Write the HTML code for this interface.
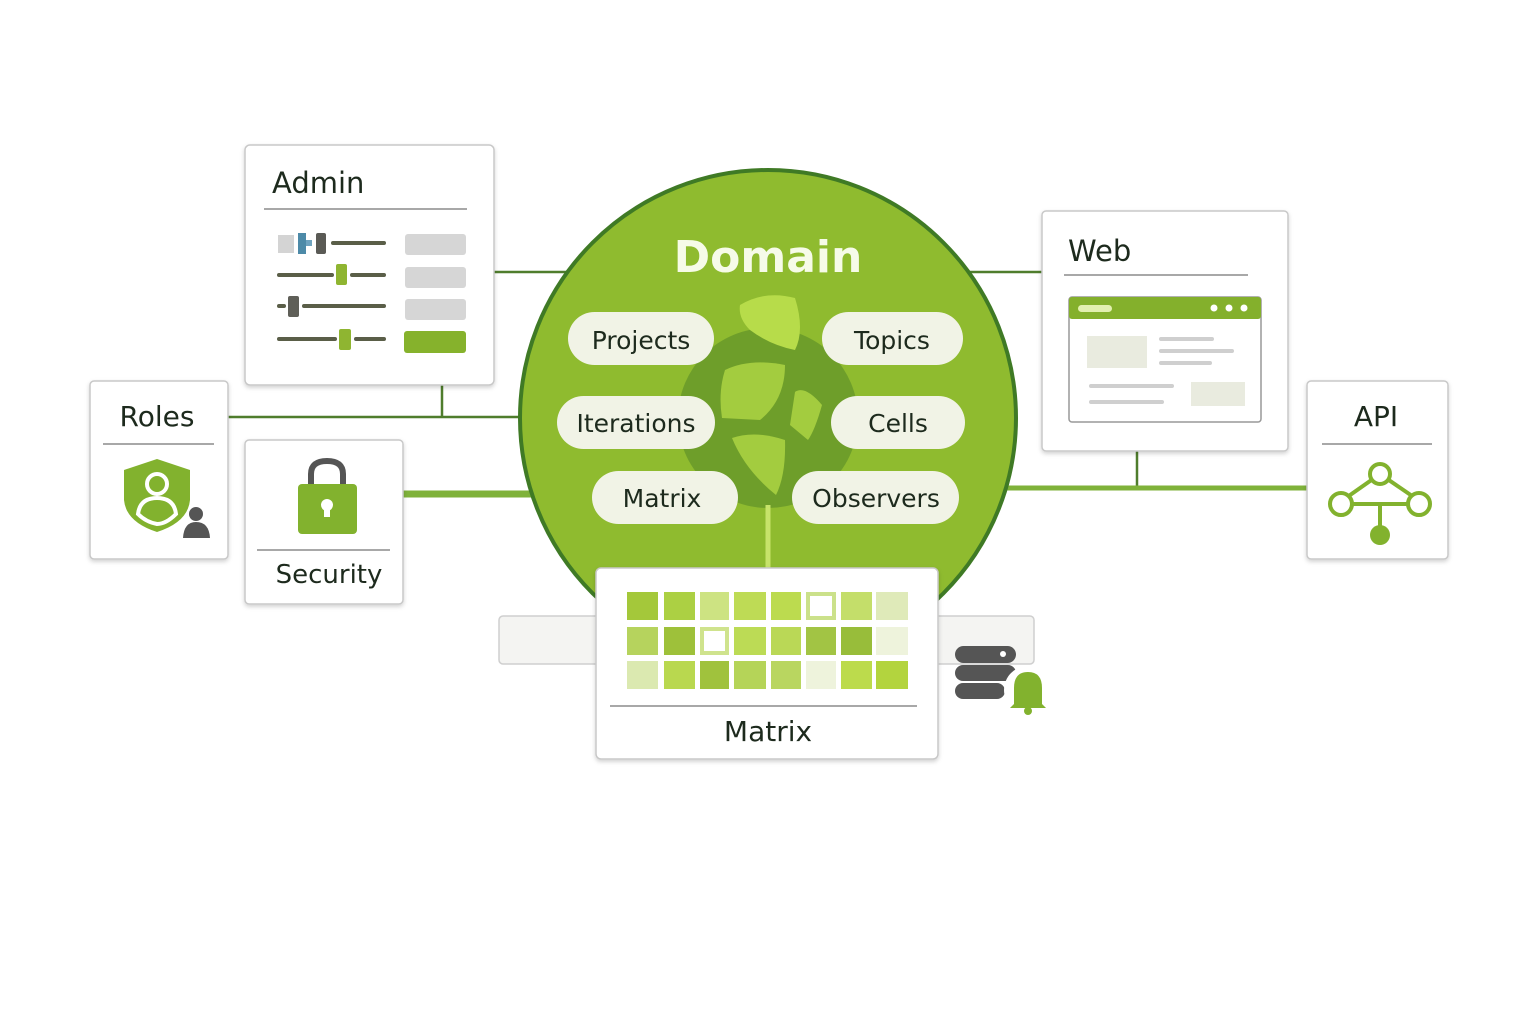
<!DOCTYPE html>
<html><head><meta charset="utf-8"><style>
body{margin:0;background:#fff;}
svg text{font-family:"DejaVu Sans","Liberation Sans",sans-serif;fill:#1d2a1d;}
</style></head><body>
<svg width="1536" height="1024" viewBox="0 0 1536 1024" xmlns="http://www.w3.org/2000/svg">
<defs>
<filter id="sh" x="-10%" y="-10%" width="120%" height="130%"><feDropShadow dx="0" dy="2" stdDeviation="2" flood-color="#000" flood-opacity="0.18"/></filter>
</defs>
<g stroke="#4f7d2c" stroke-width="2.5" fill="none">
<line x1="494" y1="272" x2="570" y2="272"/>
<line x1="965" y1="272" x2="1042" y2="272"/>
<line x1="228" y1="417" x2="522" y2="417"/>
<line x1="442" y1="385" x2="442" y2="417"/>
<line x1="1137" y1="451" x2="1137" y2="488"/>
</g>
<line x1="403" y1="494" x2="540" y2="494" stroke="#7fb23a" stroke-width="7"/>
<line x1="1000" y1="488" x2="1307" y2="488" stroke="#7fb23a" stroke-width="5"/>
<rect x="499" y="616" width="535" height="48" rx="4" fill="#f4f4f2" stroke="#cfcfcf" stroke-width="1.5"/>
<circle cx="768" cy="418" r="248" fill="#8fbb2f" stroke="#3f7a25" stroke-width="4"/>
<circle cx="768" cy="418" r="90" fill="#6e9e2a"/>
<path d="M740 305 Q765 290 795 298 Q805 330 795 350 Q770 345 750 330 Q738 318 740 305Z" fill="#b7dc4a"/>
<path d="M725 370 Q750 358 785 365 Q785 400 760 420 L722 418 Q718 392 725 370Z" fill="#a3cc3f"/>
<path d="M795 392 Q805 385 822 405 Q815 430 808 440 L790 425Z" fill="#a3cc3f"/>
<path d="M732 438 Q755 430 785 440 Q786 475 776 495 Q745 470 732 438Z" fill="#a3cc3f"/>
<text x="768" y="272" font-size="44" font-weight="bold" text-anchor="middle" style="fill:#f6fbe8">Domain</text>
<g fill="#f1f3e6">
<rect x="568" y="312" width="146" height="53" rx="26.5"/>
<rect x="822" y="312" width="141" height="53" rx="26.5"/>
<rect x="557" y="396" width="158" height="53" rx="26.5"/>
<rect x="831" y="396" width="134" height="53" rx="26.5"/>
<rect x="592" y="471" width="146" height="53" rx="26.5"/>
<rect x="792" y="471" width="167" height="53" rx="26.5"/>
</g>
<g font-size="25" text-anchor="middle">
<text x="641" y="349">Projects</text>
<text x="892" y="349">Topics</text>
<text x="636" y="432">Iterations</text>
<text x="898" y="432">Cells</text>
<text x="662" y="507">Matrix</text>
<text x="876" y="507">Observers</text>
</g>
<line x1="768" y1="505" x2="768" y2="570" stroke="#c7e36a" stroke-width="5"/>
<rect x="245" y="145" width="249" height="240" rx="5" fill="#fff" stroke="#c8c8c8" stroke-width="1.5" filter="url(#sh)"/>
<text x="272" y="193" font-size="29">Admin</text>
<line x1="264" y1="209" x2="467" y2="209" stroke="#a8a8a8" stroke-width="2"/>
<g stroke="#5a5e48" stroke-width="4" stroke-linecap="round">
<line x1="333" y1="243" x2="384" y2="243"/>
<line x1="279" y1="275" x2="332" y2="275"/><line x1="352" y1="275" x2="384" y2="275"/>
<line x1="279" y1="306" x2="284" y2="306"/><line x1="304" y1="306" x2="384" y2="306"/>
<line x1="279" y1="339" x2="335" y2="339"/><line x1="356" y1="339" x2="384" y2="339"/>
</g>
<rect x="278" y="235" width="16" height="18" fill="#d4d4d4"/>
<rect x="298" y="233" width="8" height="21" fill="#4d8aa8"/><rect x="306" y="240" width="6" height="6" fill="#6fa3bf"/>
<rect x="316" y="233" width="10" height="21" rx="2" fill="#5a5a55"/>
<rect x="336" y="264" width="11" height="21" rx="2" fill="#8fb531"/>
<rect x="288" y="296" width="11" height="21" rx="2" fill="#5f5f58"/>
<rect x="339" y="329" width="12" height="21" rx="2" fill="#8fb531"/>
<rect x="405" y="234" width="61" height="21" rx="3" fill="#d6d6d6"/>
<rect x="405" y="267" width="61" height="21" rx="3" fill="#d6d6d6"/>
<rect x="405" y="299" width="61" height="21" rx="3" fill="#d6d6d6"/>
<rect x="404" y="331" width="62" height="22" rx="3" fill="#86b22c"/>
<rect x="90" y="381" width="138" height="178" rx="4" fill="#fff" stroke="#c8c8c8" stroke-width="1.5" filter="url(#sh)"/>
<text x="157" y="426" font-size="28" text-anchor="middle">Roles</text>
<line x1="103" y1="444" x2="214" y2="444" stroke="#a8a8a8" stroke-width="2"/>
<path d="M157 459 L190 470 L190 500 Q188 522 157 532 Q126 522 124 500 L124 470Z" fill="#82b22e"/>
<circle cx="157" cy="484" r="10" fill="none" stroke="#fff" stroke-width="4"/>
<path d="M138 514 Q140 498 157 498 Q174 498 176 514 Q166 524 157 524 Q146 522 138 514Z" fill="none" stroke="#fff" stroke-width="4"/>
<circle cx="196" cy="514" r="7" fill="#555"/><path d="M183 538 Q184 522 196 522 Q209 522 210 538Z" fill="#555"/>
<rect x="245" y="440" width="158" height="164" rx="4" fill="#fff" stroke="#c8c8c8" stroke-width="1.5" filter="url(#sh)"/>
<path d="M311 486 L311 474 Q311 461 327 461 Q343 461 343 474 L343 486" fill="none" stroke="#555" stroke-width="6"/>
<rect x="298" y="484" width="59" height="50" rx="4" fill="#82b22e"/>
<circle cx="327" cy="505" r="6" fill="#fff"/><rect x="324" y="505" width="6" height="12" fill="#fff"/>
<line x1="257" y1="550" x2="390" y2="550" stroke="#a8a8a8" stroke-width="2"/>
<text x="329" y="583" font-size="26" text-anchor="middle">Security</text>
<rect x="1042" y="211" width="246" height="240" rx="4" fill="#fff" stroke="#c8c8c8" stroke-width="1.5" filter="url(#sh)"/>
<text x="1068" y="261" font-size="29">Web</text>
<line x1="1064" y1="275" x2="1248" y2="275" stroke="#a8a8a8" stroke-width="2"/>
<rect x="1069" y="297" width="192" height="125" rx="3" fill="#fff" stroke="#999" stroke-width="1.5"/>
<rect x="1069" y="297" width="192" height="22" rx="3" fill="#84b02c"/>
<rect x="1078" y="305" width="34" height="7" rx="3.5" fill="#e2f0b0"/>
<circle cx="1214" cy="308" r="3.5" fill="#fff"/><circle cx="1229" cy="308" r="3.5" fill="#fff"/><circle cx="1244" cy="308" r="3.5" fill="#fff"/>
<rect x="1087" y="336" width="60" height="32" fill="#e9ebdf"/>
<g stroke="#cfcfcf" stroke-width="4" stroke-linecap="round">
<line x1="1161" y1="339" x2="1212" y2="339"/><line x1="1161" y1="351" x2="1232" y2="351"/><line x1="1161" y1="363" x2="1210" y2="363"/>
<line x1="1091" y1="386" x2="1172" y2="386"/><line x1="1091" y1="402" x2="1162" y2="402"/>
</g>
<rect x="1191" y="382" width="54" height="24" fill="#e9ebdf"/>
<rect x="1307" y="381" width="141" height="178" rx="4" fill="#fff" stroke="#c8c8c8" stroke-width="1.5" filter="url(#sh)"/>
<text x="1376" y="426" font-size="28" text-anchor="middle">API</text>
<line x1="1322" y1="444" x2="1432" y2="444" stroke="#a8a8a8" stroke-width="2"/>
<g stroke="#82b22e" stroke-width="4" fill="none">
<line x1="1380" y1="474" x2="1343" y2="500"/><line x1="1380" y1="474" x2="1418" y2="500"/>
<line x1="1353" y1="504" x2="1407" y2="504"/><line x1="1380" y1="504" x2="1380" y2="530"/>
<circle cx="1380" cy="474" r="10" fill="#fff"/><circle cx="1341" cy="504" r="11" fill="#fff"/><circle cx="1419" cy="504" r="11" fill="#fff"/>
</g>
<circle cx="1380" cy="535" r="10" fill="#82b22e"/>
<rect x="596" y="568" width="342" height="191" rx="5" fill="#fff" stroke="#c8c8c8" stroke-width="1.5" filter="url(#sh)"/>
<g>
<rect x="627" y="592" width="31" height="28" fill="#a4c83a"/><rect x="664" y="592" width="31" height="28" fill="#acd043"/><rect x="700" y="592" width="29" height="28" fill="#cde382"/><rect x="734" y="592" width="32" height="28" fill="#bedb55"/><rect x="771" y="592" width="30" height="28" fill="#bcdb4f"/><rect x="806" y="592" width="30" height="28" fill="#cbe18a"/><rect x="810" y="596" width="22" height="20" fill="#fff"/><rect x="841" y="592" width="31" height="28" fill="#c4de6a"/><rect x="876" y="592" width="32" height="28" fill="#dfeab9"/>
<rect x="627" y="627" width="31" height="28" fill="#b6d35d"/><rect x="664" y="627" width="31" height="28" fill="#9ec13a"/><rect x="700" y="627" width="29" height="28" fill="#cfe38d"/><rect x="704" y="631" width="21" height="20" fill="#fff"/><rect x="734" y="627" width="32" height="28" fill="#bcdb55"/><rect x="771" y="627" width="30" height="28" fill="#bad856"/><rect x="806" y="627" width="30" height="28" fill="#a2c444"/><rect x="841" y="627" width="31" height="28" fill="#98bd3a"/><rect x="876" y="627" width="32" height="28" fill="#eef3dc"/>
<rect x="627" y="661" width="31" height="28" fill="#dbe9b0"/><rect x="664" y="661" width="31" height="28" fill="#b9d84f"/><rect x="700" y="661" width="29" height="28" fill="#a0c23d"/><rect x="734" y="661" width="32" height="28" fill="#b5d458"/><rect x="771" y="661" width="30" height="28" fill="#b9d660"/><rect x="806" y="661" width="30" height="28" fill="#eef3dc"/><rect x="841" y="661" width="31" height="28" fill="#bcdb4c"/><rect x="876" y="661" width="32" height="28" fill="#b3d43e"/>
</g>
<line x1="610" y1="706" x2="917" y2="706" stroke="#a8a8a8" stroke-width="2"/>
<text x="768" y="741" font-size="28" text-anchor="middle">Matrix</text>
<g fill="#555">
<rect x="955" y="646" width="61" height="17" rx="8.5"/><rect x="955" y="665" width="61" height="16" rx="8"/><rect x="955" y="683" width="50" height="16" rx="8"/>
</g>
<circle cx="1003" cy="654" r="3" fill="#fff"/>
<circle cx="1028" cy="690" r="24" fill="#fff"/>
<path d="M1014 704 L1014 688 Q1014 672 1028 672 Q1042 672 1042 688 L1042 704 L1046 708 L1010 708Z" fill="#82b22e"/>
<circle cx="1028" cy="711" r="4" fill="#82b22e"/>
</svg>
</body></html>
